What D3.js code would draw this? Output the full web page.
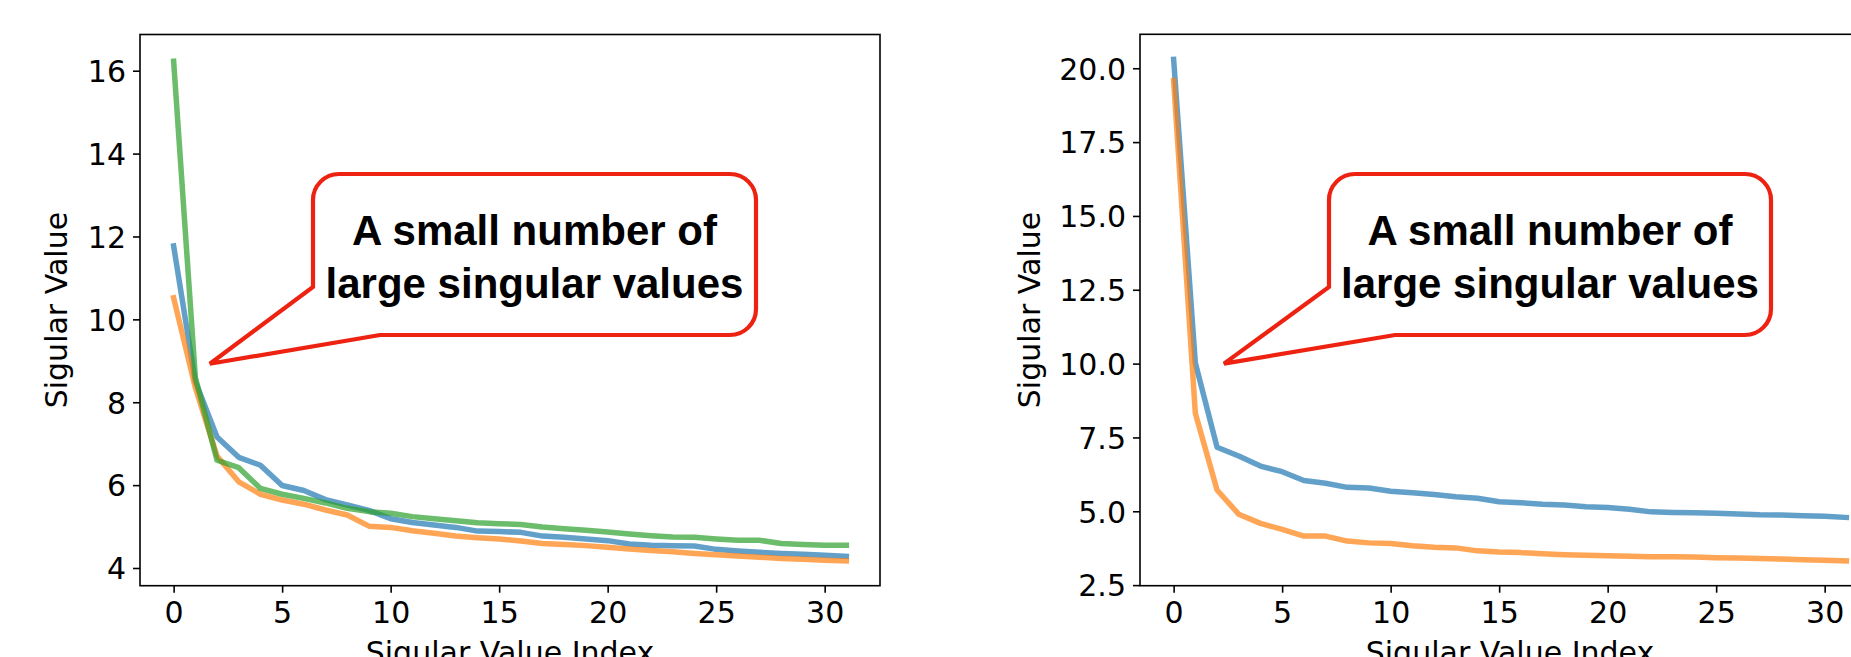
<!DOCTYPE html>
<html><head><meta charset="utf-8">
<script src="https://cdn.jsdelivr.net/npm/d3@7"></script>
<style>body{margin:0;background:#fff;overflow:hidden;} svg{display:block;}</style>
</head><body>
<svg id="chart" width="1851" height="657"></svg>
<script>
// ---------- data ----------
const indices = [0,1,2,3,4,5,6,7,8,9,10,11,12,13,14,15,16,17,18,19,20,21,22,23,24,25,26,27,28,29,30,31];

const leftBlue   = [11.77, 8.50, 7.16, 6.67, 6.48, 5.99, 5.87, 5.65, 5.52, 5.39, 5.19, 5.10, 5.04, 4.98, 4.89, 4.88, 4.86, 4.77, 4.74, 4.70, 4.66, 4.58, 4.55, 4.54, 4.53, 4.45, 4.41, 4.38, 4.35, 4.33, 4.31, 4.28];
const leftOrange = [10.52, 8.35, 6.70, 6.08, 5.78, 5.64, 5.54, 5.40, 5.28, 5.01, 4.98, 4.90, 4.84, 4.77, 4.73, 4.70, 4.65, 4.59, 4.57, 4.54, 4.50, 4.46, 4.42, 4.39, 4.35, 4.32, 4.29, 4.26, 4.23, 4.21, 4.19, 4.17];
const leftGreen  = [16.23, 8.60, 6.60, 6.42, 5.92, 5.78, 5.68, 5.57, 5.44, 5.36, 5.32, 5.24, 5.19, 5.14, 5.09, 5.07, 5.05, 4.99, 4.95, 4.91, 4.87, 4.82, 4.78, 4.75, 4.74, 4.70, 4.67, 4.67, 4.59, 4.57, 4.55, 4.55];

const rightBlue   = [20.30, 10.02, 7.17, 6.87, 6.53, 6.34, 6.04, 5.95, 5.81, 5.79, 5.68, 5.63, 5.57, 5.49, 5.44, 5.32, 5.29, 5.24, 5.21, 5.15, 5.13, 5.07, 4.98, 4.96, 4.95, 4.93, 4.91, 4.88, 4.87, 4.85, 4.83, 4.79];
const rightOrange = [19.58, 8.32, 5.72, 4.90, 4.59, 4.39, 4.16, 4.16, 3.99, 3.93, 3.91, 3.83, 3.78, 3.76, 3.66, 3.62, 3.60, 3.56, 3.53, 3.51, 3.49, 3.48, 3.46, 3.46, 3.45, 3.43, 3.42, 3.40, 3.38, 3.36, 3.34, 3.32];

const xTicks = [0,5,10,15,20,25,30];
const leftYTicks = [4,6,8,10,12,14,16];
const rightYTicks = [2.5,5.0,7.5,10.0,12.5,15.0,17.5,20.0];
const xLabel = "Sigular Value Index";
const yLabel = "Sigular Value";
const calloutLines = ["A small number of", "large singular values"];

// ---------- styling / layout ----------
const C = d3.schemeCategory10;
const tickFont = "'DejaVu Sans', sans-serif";
const fontSize = 30;

const panels = [
  {
    left: 140, right: 880, top: 34.5, bottom: 585.7,
    xDomain: [-1.55, 32.55], yDomain: [3.573, 16.874],
    yTicks: leftYTicks, fmt: d3.format("d"),
    series: [[leftBlue, C[0]], [leftOrange, C[1]], [leftGreen, C[2]]],
    yLabelX: 67,
    callout: {x0: 313, y0: 174, x1: 756, y1: 335, r: 26, baseTopY: 287, baseBottomX: 380, tip: [1.67, 8.93]}
  },
  {
    left: 1140, right: 1880, top: 34.3, bottom: 585.7,
    xDomain: [-1.55, 32.55], yDomain: [2.48, 21.15],
    yTicks: rightYTicks, fmt: d3.format(".1f"),
    series: [[rightBlue, C[0]], [rightOrange, C[1]]],
    yLabelX: 1039.5,
    callout: {x0: 1329, y0: 174, x1: 1771, y1: 335, r: 26, baseTopY: 287, baseBottomX: 1395, tip: [2.32, 10.0]}
  }
];

const svg = d3.select("#chart");

panels.forEach(p => {
  const x = d3.scaleLinear().domain(p.xDomain).range([p.left, p.right]);
  const y = d3.scaleLinear().domain(p.yDomain).range([p.bottom, p.top]);
  const g = svg.append("g");

  // lines
  const line = d3.line().x((d, i) => x(indices[i])).y(d => y(d));
  p.series.forEach(([vals, col]) => {
    g.append("path").datum(vals)
      .attr("d", line)
      .attr("fill", "none")
      .attr("stroke", col)
      .attr("stroke-opacity", 0.7)
      .attr("stroke-width", 5.5)
      .attr("stroke-linejoin", "round")
      .attr("stroke-linecap", "square");
  });

  // axes
  const xa = g.append("g").attr("transform", `translate(0,${p.bottom})`)
    .call(d3.axisBottom(x).tickValues(xTicks).tickSize(7).tickPadding(7).tickFormat(d3.format("d")));
  const ya = g.append("g").attr("transform", `translate(${p.left},0)`)
    .call(d3.axisLeft(y).tickValues(p.yTicks).tickSize(7).tickPadding(7).tickFormat(p.fmt));
  [xa, ya].forEach(a => {
    a.select(".domain").remove();
    a.selectAll(".tick line").attr("stroke", "#000").attr("stroke-width", 1.6);
    a.selectAll(".tick text").attr("fill", "#000")
      .style("font-family", tickFont).style("font-size", fontSize + "px");
  });
  xa.selectAll(".tick text").attr("dy", "0.78em");
  ya.selectAll(".tick text").attr("dy", "0.36em");

  // frame
  g.append("rect")
    .attr("x", p.left).attr("y", p.top)
    .attr("width", p.right - p.left).attr("height", p.bottom - p.top)
    .attr("fill", "none").attr("stroke", "#000").attr("stroke-width", 1.6);

  // axis labels
  g.append("text")
    .attr("x", (p.left + p.right) / 2).attr("y", 663)
    .attr("text-anchor", "middle")
    .style("font-family", tickFont).style("font-size", fontSize + "px")
    .text(xLabel);
  g.append("text")
    .attr("transform", `translate(${p.yLabelX},${(p.top + p.bottom) / 2}) rotate(-90)`)
    .attr("text-anchor", "middle")
    .style("font-family", tickFont).style("font-size", fontSize + "px")
    .text(yLabel);

  // callout
  const c = p.callout;
  const tx = x(c.tip[0]), ty = y(c.tip[1]);
  const path = d3.path();
  path.moveTo(c.x0, c.baseTopY);
  path.lineTo(c.x0, c.y0 + c.r);
  path.arcTo(c.x0, c.y0, c.x0 + c.r, c.y0, c.r);
  path.lineTo(c.x1 - c.r, c.y0);
  path.arcTo(c.x1, c.y0, c.x1, c.y0 + c.r, c.r);
  path.lineTo(c.x1, c.y1 - c.r);
  path.arcTo(c.x1, c.y1, c.x1 - c.r, c.y1, c.r);
  path.lineTo(c.baseBottomX, c.y1);
  path.lineTo(tx, ty);
  path.closePath();
  g.append("path").attr("d", path.toString())
    .attr("fill", "#fff").attr("stroke", "#ee2211")
    .attr("stroke-width", 4.2).attr("stroke-linejoin", "miter");
  const cx = (c.x0 + c.x1) / 2;
  const baselines = [245, 297.5];
  calloutLines.forEach((t, i) => {
    g.append("text")
      .attr("x", cx).attr("y", baselines[i])
      .attr("text-anchor", "middle")
      .style("font-family", "'Liberation Sans', Arial, sans-serif")
      .style("font-weight", "bold")
      .style("font-size", "42px")
      .attr("fill", "#000")
      .text(t);
  });
});
</script>
</body></html>
